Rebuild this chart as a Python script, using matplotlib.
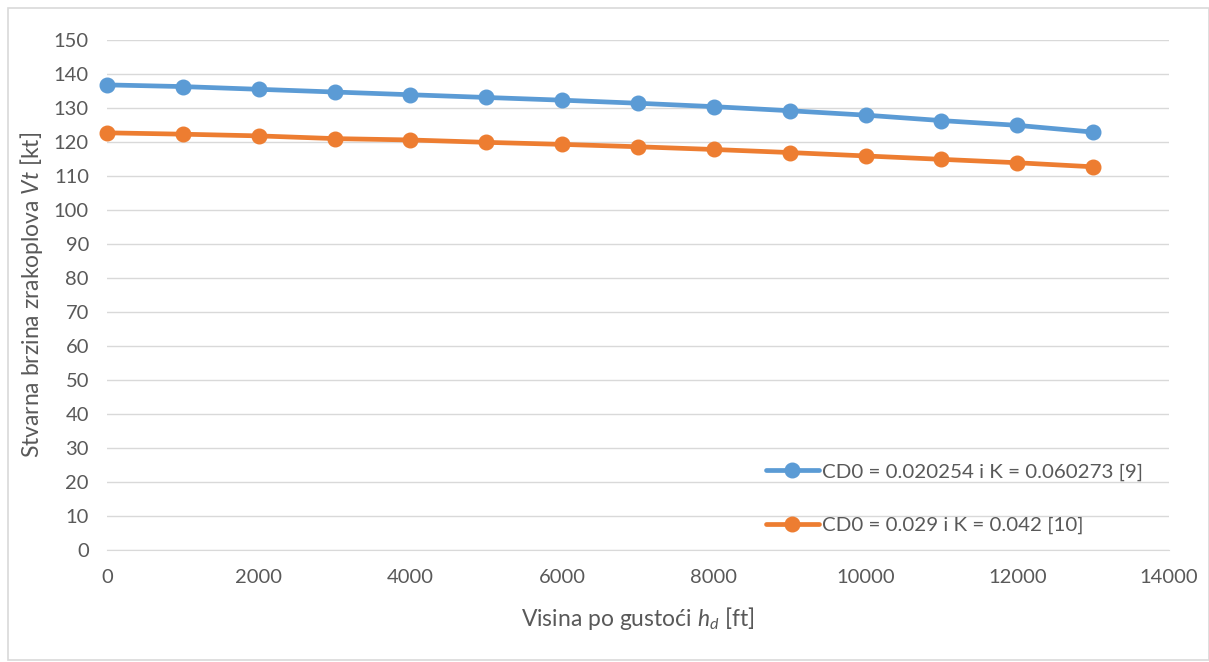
import matplotlib.pyplot as plt
from matplotlib.patches import Rectangle

plt.rcParams['font.family'] = ['Lato', 'DejaVu Sans']
plt.rcParams['mathtext.fontset'] = 'custom'
plt.rcParams['mathtext.rm'] = 'Lato'
plt.rcParams['mathtext.it'] = 'Lato:italic'

# podaci
visina = [0, 1000, 2000, 3000, 4000, 5000, 6000, 7000, 8000, 9000, 10000, 11000, 12000, 13000]
vt_9 = [136.8, 136.3, 135.5, 134.7, 133.9, 133.1, 132.3, 131.4, 130.4, 129.2, 127.9, 126.3, 124.9, 122.9]
vt_10 = [122.7, 122.3, 121.8, 121.0, 120.6, 119.9, 119.3, 118.6, 117.8, 116.9, 115.9, 114.9, 113.9, 112.7]
label_9 = 'CD0 = 0.020254 i K = 0.060273 [9]'
label_10 = 'CD0 = 0.029 i K = 0.042 [10]'
xticks = list(range(0, 14001, 2000))
yticks = list(range(0, 151, 10))

siva = '#595959'

fig = plt.figure(figsize=(12.09, 6.62), dpi=100)
fig.patches.append(Rectangle((8 / 1209, 0.003), 1 - 8 / 1209, 1 - 8 / 662 - 0.003, transform=fig.transFigure,
                             fill=False, edgecolor='#d9d9d9', linewidth=1.2))
ax = fig.add_axes([107 / 1209, 1 - 550 / 662, (1169 - 107) / 1209, (550 - 40) / 662])

ax.plot(visina, vt_9, color='#5b9bd5', linewidth=3.4, marker='o', markersize=10.5, label=label_9,
        solid_capstyle='round', clip_on=False)
ax.plot(visina, vt_10, color='#ed7d31', linewidth=3.4, marker='o', markersize=10.5, label=label_10,
        solid_capstyle='round', clip_on=False)

ax.set_xlim(0, 14000)
ax.set_ylim(0, 150)
ax.set_xticks(xticks)
ax.set_yticks(yticks)
ax.grid(axis='y', color='#d9d9d9', linewidth=1)
ax.set_axisbelow(True)
for s in ['top', 'right', 'left']:
    ax.spines[s].set_visible(False)
ax.spines['bottom'].set_color('#d9d9d9')
ax.tick_params(length=0, labelsize=14.5, labelcolor=siva)
ax.tick_params(axis='y', pad=13)
ax.tick_params(axis='x', pad=14)

ax.set_xlabel(r'Visina po gustoći $\mathit{h}_{\mathit{d}}$ [ft]', fontsize=16.5, color=siva, labelpad=13)
ax.set_ylabel(r'Stvarna brzina zrakoplova $\mathit{Vt}$ [kt]', fontsize=16.5, color=siva, labelpad=6)

leg = ax.legend(loc='lower left', bbox_to_anchor=(0.603, -0.005), frameon=False, fontsize=14.75,
                labelspacing=1.75, handlelength=2.6, handletextpad=0.15, labelcolor=siva)

fig.savefig('out.png', dpi=100)
